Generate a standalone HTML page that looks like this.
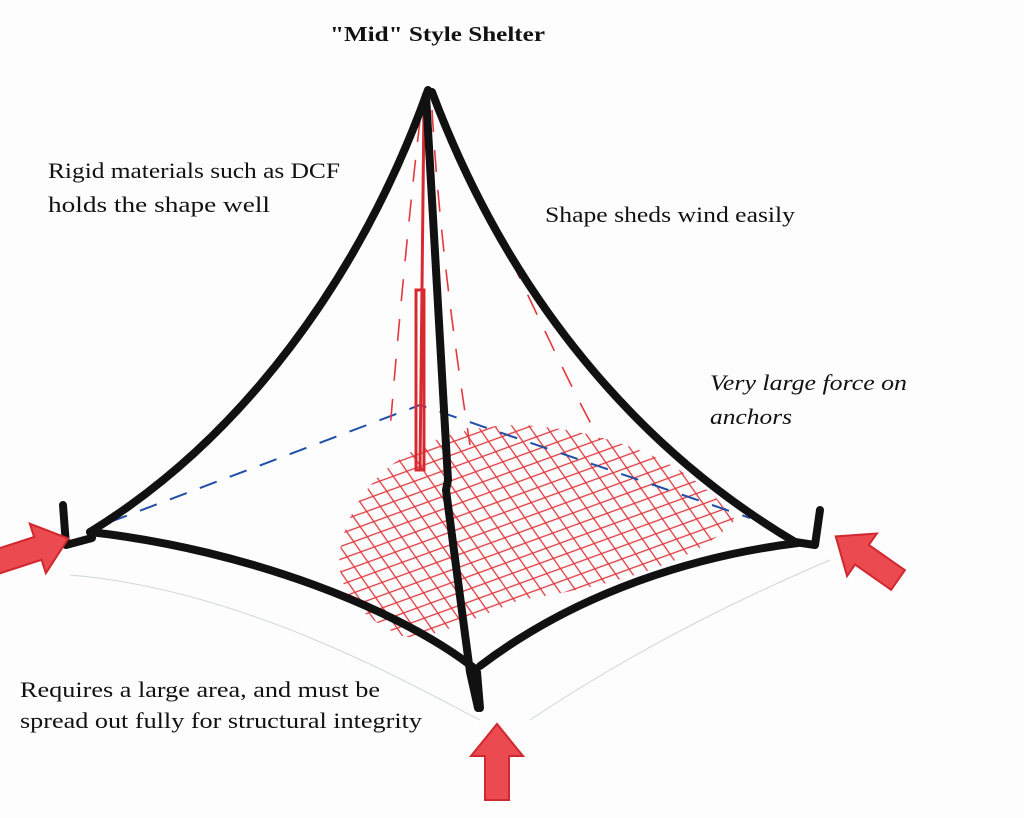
<!DOCTYPE html>
<html><head><meta charset="utf-8"><style>
html,body{margin:0;padding:0;background:#fdfdfd;}
svg{display:block}
text{font-family:"Liberation Serif",serif;fill:#111;}
</style></head><body>
<svg width="1024" height="818" viewBox="0 0 1024 818" xmlns="http://www.w3.org/2000/svg">
<defs>
<pattern id="h" width="12" height="12" patternUnits="userSpaceOnUse" patternTransform="rotate(-20)">
<line x1="0" y1="6" x2="12" y2="6" stroke="#e0393e" stroke-width="1.3"/>
</pattern>
<pattern id="h2" width="14" height="14" patternUnits="userSpaceOnUse" patternTransform="rotate(55)">
<line x1="0" y1="7" x2="14" y2="7" stroke="#e0393e" stroke-width="1.3"/>
</pattern>
<clipPath id="c"><path d="M340,550 C355,470 430,425 520,425 C620,430 700,470 735,520 C700,560 620,585 520,600 C470,620 420,645 400,635 C355,615 335,585 340,550Z"/></clipPath>
<path id="arr" d="M0,-12 L44,-12 L44,-26 L76,0 L44,26 L44,12 L0,12Z"/>
</defs>
<rect width="1024" height="818" fill="#fdfdfd"/>
<path d="M70,575 C250,590 420,690 480,720 M530,720 C650,640 760,590 830,560" stroke="#cfd6dc" stroke-width="1" fill="none"/>
<g clip-path="url(#c)"><rect x="330" y="410" width="420" height="240" fill="url(#h)"/><rect x="330" y="410" width="420" height="240" fill="url(#h2)"/></g>
<path d="M110,522 L420,405 L750,518" stroke="#1f4fa8" stroke-width="2" fill="none" stroke-dasharray="18,14"/>
<path d="M432,110 C440,250 460,380 470,445" stroke="#e0393e" stroke-width="1.6" fill="none" stroke-dasharray="22,18"/>
<path d="M440,115 C500,230 560,370 600,440" stroke="#e0393e" stroke-width="1.6" fill="none" stroke-dasharray="22,18"/>
<path d="M420,120 C405,250 395,370 390,430" stroke="#e0393e" stroke-width="1.6" fill="none" stroke-dasharray="22,18"/>
<path d="M424,105 L420,470 M416,290 L424,290 L424,470 L416,470Z" stroke="#d62a30" stroke-width="3" fill="none"/>
<g stroke="#111" stroke-width="8" fill="none" stroke-linecap="round" stroke-linejoin="round">
<path d="M428,90 C360,280 240,440 90,532"/>
<path d="M432,92 C510,300 640,450 795,542"/>
<path d="M90,532 C250,550 400,610 474,668"/>
<path d="M480,666 C580,590 700,555 798,543"/>
<path d="M426,95 L448,480 L446,490 L470,672 L478,708"/>
<path d="M63,505 L66,545 L92,538"/>
<path d="M820,510 L815,545 L795,542"/>
<path d="M477,672 L480,708"/>
</g>
<g fill="#ea4a50" stroke="#d0282e" stroke-width="2">
<use href="#arr" transform="translate(-4,562) rotate(-18)"/>
<use href="#arr" transform="translate(898,580) rotate(215)"/>
<use href="#arr" transform="translate(497,800) rotate(-90)"/>
</g>
<text x="330" y="41" font-size="21" font-weight="bold" textLength="215" lengthAdjust="spacingAndGlyphs">"Mid" Style Shelter</text>
<text x="48" y="178" font-size="22" textLength="292" lengthAdjust="spacingAndGlyphs">Rigid materials such as DCF</text>
<text x="48" y="212" font-size="22" textLength="222" lengthAdjust="spacingAndGlyphs">holds the shape well</text>
<text x="545" y="222" font-size="22" textLength="250" lengthAdjust="spacingAndGlyphs">Shape sheds wind easily</text>
<text x="710" y="390" font-size="22" font-style="italic" textLength="197" lengthAdjust="spacingAndGlyphs">Very large force on</text>
<text x="710" y="424" font-size="22" font-style="italic" textLength="82" lengthAdjust="spacingAndGlyphs">anchors</text>
<text x="20" y="697" font-size="22" textLength="360" lengthAdjust="spacingAndGlyphs">Requires a large area, and must be</text>
<text x="20" y="728" font-size="22" textLength="402" lengthAdjust="spacingAndGlyphs">spread out fully for structural integrity</text>
</svg>
</body></html>
